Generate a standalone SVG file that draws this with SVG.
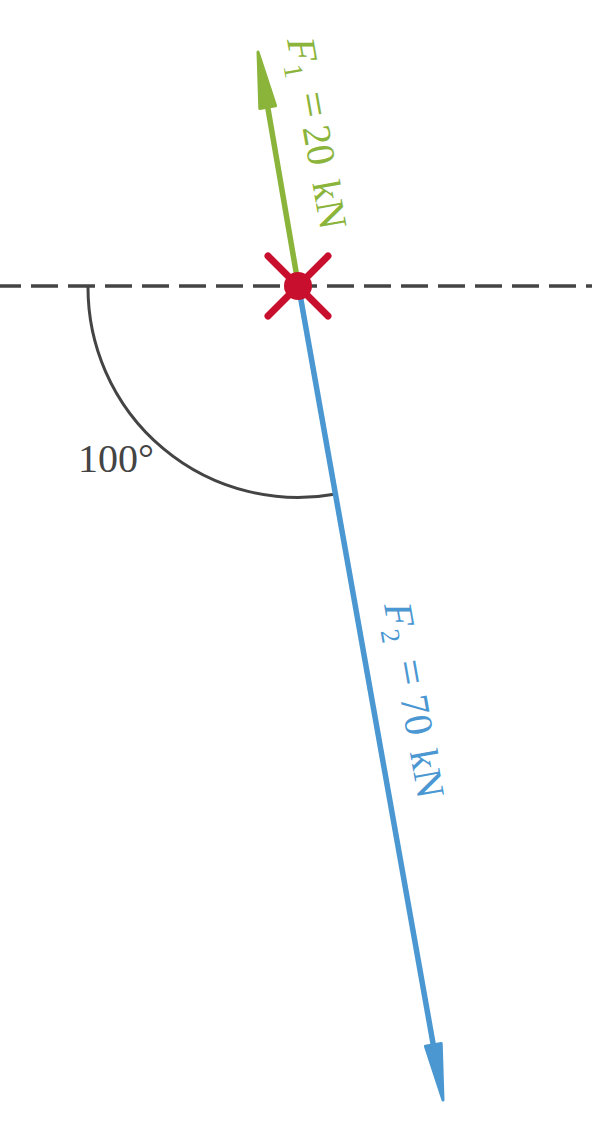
<svg xmlns="http://www.w3.org/2000/svg" width="592" height="1136" viewBox="0 0 592 1136">
<style>
.lbl{font-family:"Liberation Serif","DejaVu Serif",serif;font-size:40px}
.it{font-style:italic}
.sub{font-size:27px}
.eq{font-size:46px}
</style>
<rect width="592" height="1136" fill="#ffffff"/>
<g id="axis">
<line x1="0" y1="286" x2="592" y2="286" stroke="#444" stroke-width="3.5" stroke-dasharray="27 10" stroke-dashoffset="6"/>
</g>
<g id="angle">
<path d="M 88 286 A 210 210 0 0 0 336 494" fill="none" stroke="#444" stroke-width="3"/>
<text class="lbl" x="78" y="472" fill="#444">100°</text>
</g>
<g id="connectors">
<g id="force-f1">
<line x1="298.5" y1="286" x2="267.7" y2="107" stroke="#8ab43a" stroke-width="5.5"/>
<polygon points="258,52 275.6,105.7 259.8,108.5" fill="#8ab43a" stroke="#8ab43a" stroke-width="3" stroke-linejoin="round"/>
</g>
<g id="force-f2">
<line x1="298.5" y1="286" x2="433.3" y2="1045" stroke="#4a97d2" stroke-width="5.5"/>
<polygon points="443,1100 441.2,1043.5 425.4,1046.3" fill="#4a97d2" stroke="#4a97d2" stroke-width="3" stroke-linejoin="round"/>
</g>
</g>
<g id="label-f1" transform="translate(287,40) rotate(80)">
<text class="lbl" fill="#8ab43a"><tspan class="it" x="0" y="0">F</tspan><tspan class="sub" x="25" y="8">1</tspan><tspan class="eq" x="55" y="0">=</tspan><tspan x="89" y="0">20</tspan><tspan x="145" y="0">kN</tspan></text>
</g>
<g id="label-f2" transform="translate(384,605) rotate(80)">
<text class="lbl" fill="#4a97d2"><tspan class="it" x="0" y="0">F</tspan><tspan class="sub" x="25" y="8">2</tspan><tspan class="eq" x="58" y="0">=</tspan><tspan x="94" y="0">70</tspan><tspan x="149" y="0">kN</tspan></text>
</g>
<g id="point">
<line x1="268" y1="256" x2="328" y2="316" stroke="#c8102e" stroke-width="7" stroke-linecap="round"/>
<line x1="328" y1="256" x2="268" y2="316" stroke="#c8102e" stroke-width="7" stroke-linecap="round"/>
<circle cx="298" cy="286" r="14" fill="#c8102e"/>
</g>
</svg>
